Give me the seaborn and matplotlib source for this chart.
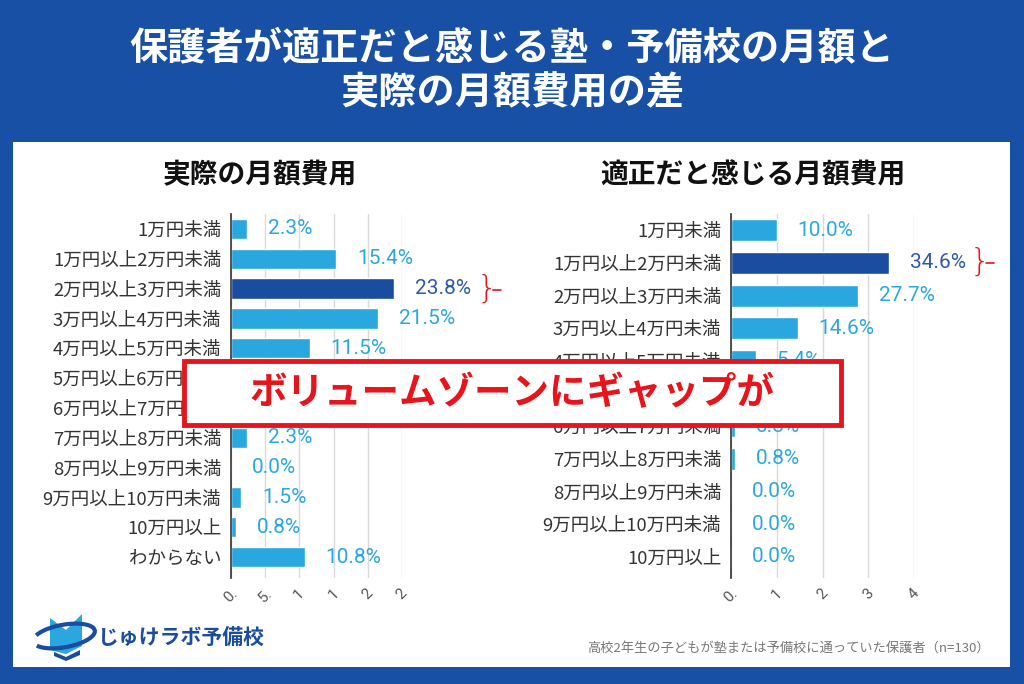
"""Parents' view of cram school fees vs actual monthly fees (two bar panels)."""
import matplotlib
matplotlib.use("Agg")
import matplotlib.pyplot as plt
import matplotlib.patches as mpatches
from matplotlib.lines import Line2D
import seaborn as sns

# --- data -------------------------------------------------------------
ACTUAL_CATS = ["1万円未満", "1万円以上2万円未満", "2万円以上3万円未満", "3万円以上4万円未満",
               "4万円以上5万円未満", "5万円以上6万円未満", "6万円以上7万円未満",
               "7万円以上8万円未満", "8万円以上9万円未満", "9万円以上10万円未満",
               "10万円以上", "わからない"]
ACTUAL_VALS = [2.3, 15.4, 23.8, 21.5, 11.5, 6.9, 3.1, 2.3, 0.0, 1.5, 0.8, 10.8]
ACTUAL_TICKS = [0, 5, 10, 15, 20, 25]
ACTUAL_TICK_LABELS = ["0.", "5.", "1", "1", "2", "2"]

FAIR_CATS = ["1万円未満", "1万円以上2万円未満", "2万円以上3万円未満", "3万円以上4万円未満",
             "4万円以上5万円未満", "5万円以上6万円未満", "6万円以上7万円未満",
             "7万円以上8万円未満", "8万円以上9万円未満", "9万円以上10万円未満", "10万円以上"]
FAIR_VALS = [10.0, 34.6, 27.7, 14.6, 5.4, 6.2, 0.8, 0.8, 0.0, 0.0, 0.0]
FAIR_TICKS = [0, 10, 20, 30, 40]
FAIR_TICK_LABELS = ["0.", "1", "2", "3", "4"]

ACTUAL_PEAK = "2万円以上3万円未満"
FAIR_PEAK = "1万円以上2万円未満"

# --- style --------------------------------------------------------------
BLUE_BG = "#1750a5"
LIGHT = "#2ba7e0"
DARK = "#1a4c9f"
DARK_TXT = "#2d5aa9"
RED = "#e8141c"

sns.set_style("white")
plt.rcParams["font.family"] = ["Noto Sans CJK JP", "DejaVu Sans"]

fig = plt.figure(figsize=(10.24, 6.84), dpi=100, facecolor=BLUE_BG)
W, H = 1024, 684


def fx(px):
    return px / W


def fy(py):
    return 1 - py / H


# white card
fig.patches.append(mpatches.Rectangle((fx(13), fy(667)), fx(1010) - fx(13), fy(142) - fy(667),
                                      transform=fig.transFigure, facecolor="white",
                                      edgecolor="none", zorder=-1))

fig.text(0.5, fy(48), "保護者が適正だと感じる塾・予備校の月額と", color="white",
         fontsize=27.5, fontweight="bold", ha="center", va="center")
fig.text(0.5, fy(93), "実際の月額費用の差", color="white",
         fontsize=27.5, fontweight="bold", ha="center", va="center")


def panel(rect, cats, vals, peak, ticks, tick_labels, ymax):
    ax = fig.add_axes(rect)
    colors = {c: (DARK if c == peak else LIGHT) for c in cats}
    sns.barplot(x=vals, y=cats, hue=cats, palette=colors, legend=False, saturation=1,
                orient="h", width=0.68, ax=ax, zorder=3)
    for cont, c, v in zip(ax.containers, cats, vals):
        ax.bar_label(cont, labels=[f"{v:.1f}%"], padding=15, fontsize=15,
                     color=DARK_TXT if c == peak else LIGHT,
                     fontfamily=["Roboto", "DejaVu Sans"])
    ax.set_xlim(0, ticks[-1])
    ax.set_ylim(ymax, -0.5)
    ax.set_xticks(ticks)
    ax.set_xticklabels(tick_labels, rotation=45, ha="center", color="#555555",
                       fontsize=11, fontfamily=["Roboto", "DejaVu Sans"])
    ax.grid(axis="x", color="#d9d9d9", lw=1, zorder=0)
    ax.set_axisbelow(True)
    for s in ["top", "right", "bottom"]:
        ax.spines[s].set_visible(False)
    ax.spines["left"].set_color("#333333")
    ax.spines["left"].set_linewidth(1.2)
    ax.spines["left"].set_zorder(4)
    ax.tick_params(axis="both", length=0)
    ax.tick_params(axis="y", pad=7, labelsize=13.3, labelcolor="#333333")
    ax.tick_params(axis="x", pad=6)
    ax.set_xlabel("")
    ax.set_ylabel("")
    return ax


panel([fx(231), fy(578), fx(402) - fx(231), fy(214) - fy(578)],
      ACTUAL_CATS, ACTUAL_VALS, ACTUAL_PEAK, ACTUAL_TICKS, ACTUAL_TICK_LABELS, 11.7)
panel([fx(731), fy(578), fx(914) - fx(731), fy(214) - fy(578)],
      FAIR_CATS, FAIR_VALS, FAIR_PEAK, FAIR_TICKS, FAIR_TICK_LABELS, 10.65)

fig.text(fx(260), fy(175), "実際の月額費用", fontsize=20, fontweight="bold",
         ha="center", va="center", color="#111111")
fig.text(fx(753), fy(175), "適正だと感じる月額費用", fontsize=20, fontweight="bold",
         ha="center", va="center", color="#111111")

# red braces marking the volume zone
for bx, by in [(487, 289), (980, 262)]:
    fig.text(fx(bx), fy(by), "}", color=RED, fontsize=23, ha="center", va="center",
             fontfamily="DejaVu Sans", fontweight="light")
    fig.lines.append(Line2D([fx(bx + 6), fx(bx + 14)], [fy(by + 1), fy(by + 1)],
                            transform=fig.transFigure, color=RED, lw=1.2))

# banner
fig.patches.append(mpatches.Rectangle((fx(184), fy(425)), fx(841) - fx(184), fy(361) - fy(425),
                                      transform=fig.transFigure, facecolor="white",
                                      edgecolor=RED, lw=3.5, zorder=10))
fig.text(0.5, fy(393), "ボリュームゾーンにギャップが", color=RED, fontsize=27,
         fontweight="bold", ha="center", va="center", zorder=11)

# logo
fig.patches.append(mpatches.Polygon(
    [(fx(50), fy(650)), (fx(50), fy(618)), (fx(66), fy(630)), (fx(82), fy(614)),
     (fx(82), fy(646)), (fx(66), fy(654))],
    closed=True, transform=fig.transFigure, facecolor=LIGHT, edgecolor="none"))
fig.patches.append(mpatches.Polygon(
    [(fx(54), fy(652)), (fx(66), fy(657)), (fx(80), fy(650)), (fx(80), fy(655)),
     (fx(66), fy(661)), (fx(54), fy(656))],
    closed=True, transform=fig.transFigure, facecolor=DARK, edgecolor="none"))
fig.patches.append(mpatches.Arc((fx(64), fy(636)), fx(64), fy(636) - fy(658), angle=18,
                                theta1=190, theta2=520, transform=fig.transFigure,
                                color=DARK, lw=3))
fig.text(fx(98), fy(637), "じゅけラボ予備校", color=DARK, fontsize=15,
         fontweight="bold", ha="left", va="center")

fig.text(fx(990), fy(648), "高校2年生の子どもが塾または予備校に通っていた保護者（n=130）",
         color="#777777", fontsize=9.5, ha="right", va="center")

fig.savefig("out.png", dpi=100, facecolor=BLUE_BG)
